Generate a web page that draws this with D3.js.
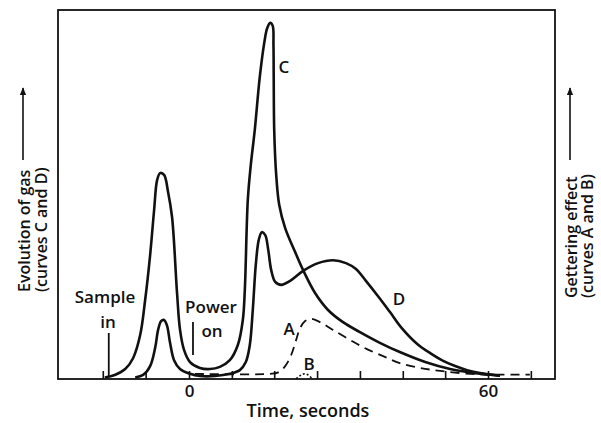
<!DOCTYPE html>
<html>
<head>
<meta charset="utf-8">
<script src="https://d3js.org/d3.v7.min.js"></script>
<style>
  body { margin: 0; background: #fff; }
  text { font-family: "Open Sans", sans-serif; font-weight: 600; fill: #111; }
</style>
</head>
<body>
<script>
// values: time in seconds, height in arbitrary units (0-100)
var curveC = [
  [-16.9, 0.4], [-14.9, 1.1], [-12.8, 2.7], [-11.2, 5.7], [-9.8, 11.9], [-8.8, 21.4],
  [-7.8, 33.6], [-7.0, 45.8], [-6.4, 53.9], [-5.8, 55.8], [-5.0, 55.3], [-4.2, 50.7],
  [-3.4, 43.9], [-2.4, 23.3], [-1.8, 13.3], [-1.0, 7.9], [0.2, 4.6], [2.2, 3.0],
  [4.2, 2.7], [6.2, 3.3], [8.2, 5.1], [9.8, 9.2], [10.8, 16.0], [11.2, 24.1],
  [11.8, 48.5], [12.4, 58.0], [13.2, 67.5], [14.2, 81.8], [15.1, 91.1], [15.7, 95.1],
  [16.3, 96.5], [16.8, 95.7], [16.95, 90.5], [17.0, 81.8], [17.1, 67.5], [17.5, 55.3],
  [18.1, 47.2], [19.3, 40.9], [21.3, 34.4], [22.9, 29.5], [25.3, 23.3], [27.9, 18.7],
  [30.9, 15.4], [34.3, 12.7], [38.3, 9.8], [42.3, 7.3], [47.4, 4.6], [52.4, 2.7],
  [57.4, 1.6], [62.4, 0.9]
];
var curveD = [
  [-10.8, 0.4], [-9.2, 1.1], [-7.8, 3.5], [-6.8, 8.4], [-6.2, 13.3], [-5.6, 15.7],
  [-5.0, 16.0], [-4.4, 14.4], [-3.8, 9.8], [-3.0, 5.1], [-1.8, 2.7], [0.2, 1.4],
  [2.2, 0.8], [5.2, 0.8], [8.2, 1.4], [10.2, 2.4], [11.4, 4.6], [12.2, 9.2],
  [12.8, 18.7], [13.4, 30.9], [14.0, 37.7], [14.6, 39.8], [15.3, 39.0], [15.9, 35.0],
  [16.5, 29.5], [17.3, 26.3], [18.5, 25.5], [20.3, 26.6], [22.9, 29.3], [25.9, 31.4],
  [28.9, 32.2], [31.5, 31.4], [33.5, 29.8], [35.5, 26.6], [37.9, 22.5], [40.3, 18.2],
  [42.7, 13.8], [45.8, 9.5], [48.4, 7.0], [51.0, 4.9], [53.4, 3.5], [55.8, 2.4],
  [58.4, 1.6], [62.4, 0.9]
];
var curveA = [
  [1.2, 1.4], [16.3, 1.4], [17.9, 1.8], [19.3, 3.5], [20.5, 6.5], [21.5, 10.6],
  [22.3, 13.8], [23.3, 15.7], [24.5, 16.3], [26.3, 15.4], [28.9, 13.3], [32.3, 10.6],
  [35.7, 8.1], [39.3, 6.0], [42.3, 4.3], [46.4, 3.0], [50.4, 2.2], [55.4, 1.5],
  [60.4, 1.2], [68.4, 1.2]
];
var curveB = [[21.5, 0.1], [22.3, 0.9], [23.1, 1.4], [23.9, 1.1], [24.7, 0.1]];

var tickValues = [-17.3, -8.7, 0, 8.6, 17.1, 25.7, 34.3, 42.9, 51.4, 60, 68.6];
var tickLabels = {0: "0", 60: "60"};
var sampleIn = -16.1;
var powerOn = 0.8;

var width = 601, height = 423;
var plotLeft = 58, plotRight = 555, plotTop = 10, plotBottom = 379;

var svg = d3.select("body").append("svg")
  .attr("width", width)
  .attr("height", height);

svg.append("rect").attr("width", width).attr("height", height).attr("fill", "#fff");

var x = d3.scaleLinear().domain([0, 60]).range([189, 488]);
var y = d3.scaleLinear().domain([0, 100]).range([plotBottom, plotTop]);

// frame
svg.append("rect")
  .attr("x", plotLeft).attr("y", plotTop)
  .attr("width", plotRight - plotLeft).attr("height", plotBottom - plotTop)
  .attr("fill", "none").attr("stroke", "#111").attr("stroke-width", 1.8);

// ticks
var axis = svg.append("g")
  .attr("transform", "translate(0," + plotBottom + ")")
  .call(d3.axisBottom(x).tickValues(tickValues).tickSize(-8).tickPadding(6)
    .tickFormat(function(d) { return tickLabels[d] || ""; }));
axis.select(".domain").remove();
axis.selectAll(".tick line").attr("stroke", "#111").attr("stroke-width", 1.6);
axis.selectAll(".tick text")
  .style("font-family", "'Open Sans', sans-serif")
  .style("font-weight", 600)
  .style("font-size", "17px").attr("fill", "#111");

var line = d3.line()
  .x(function(d) { return x(d[0]); })
  .y(function(d) { return y(d[1]); })
  .curve(d3.curveCatmullRom.alpha(0.5));

svg.append("path").datum(curveC).attr("d", line)
  .attr("fill", "none").attr("stroke", "#111").attr("stroke-width", 2.6);
svg.append("path").datum(curveD).attr("d", line)
  .attr("fill", "none").attr("stroke", "#111").attr("stroke-width", 2.6);
svg.append("path").datum(curveA).attr("d", line)
  .attr("fill", "none").attr("stroke", "#111").attr("stroke-width", 1.8)
  .attr("stroke-dasharray", "9,6");
svg.append("path").datum(curveB).attr("d", line)
  .attr("fill", "none").attr("stroke", "#111").attr("stroke-width", 1.6)
  .attr("stroke-dasharray", "2,2");

// markers
svg.append("line").attr("x1", x(sampleIn)).attr("x2", x(sampleIn))
  .attr("y1", 333).attr("y2", 377).attr("stroke", "#111").attr("stroke-width", 1.8);
svg.append("line").attr("x1", x(powerOn)).attr("x2", x(powerOn))
  .attr("y1", 322).attr("y2", 355).attr("stroke", "#111").attr("stroke-width", 1.8);

function label(txt, px, py, size) {
  svg.append("text").attr("x", px).attr("y", py)
    .attr("text-anchor", "middle")
    .style("font-size", (size || 17) + "px").text(txt);
}
label("Sample", 105, 303);
label("in", 108, 328);
label("Power", 211, 313);
label("on", 212, 337);
label("C", 284, 73);
label("D", 399, 305);
label("A", 289, 335);
label("B", 309, 370);
label("Time, seconds", 308, 417, 18);

// arrow head
svg.append("defs").append("marker")
  .attr("id", "arr").attr("viewBox", "0 0 10 10")
  .attr("refX", 9).attr("refY", 5)
  .attr("markerWidth", 5).attr("markerHeight", 6)
  .attr("orient", "auto")
  .append("path").attr("d", "M0,1 L10,5 L0,9 Z").attr("fill", "#111");

// side labels
function sideLabel(lines, startY, arrowX) {
  var g = svg.append("g");
  lines.forEach(function(t) {
    g.append("text")
      .attr("transform", "translate(" + t.x + "," + startY + ") rotate(-90)")
      .attr("text-anchor", "start")
      .style("font-size", "16px").text(t.s);
  });
  g.append("line").attr("x1", arrowX).attr("x2", arrowX)
    .attr("y1", 160).attr("y2", 88)
    .attr("stroke", "#111").attr("stroke-width", 1.6)
    .attr("marker-end", "url(#arr)");
}
sideLabel([{s: "Evolution of gas", x: 30}, {s: "(curves C and D)", x: 47}], 292, 23);
sideLabel([{s: "Gettering effect", x: 577}, {s: "(curves A and B)", x: 593}], 298, 570);
</script>
</body>
</html>
